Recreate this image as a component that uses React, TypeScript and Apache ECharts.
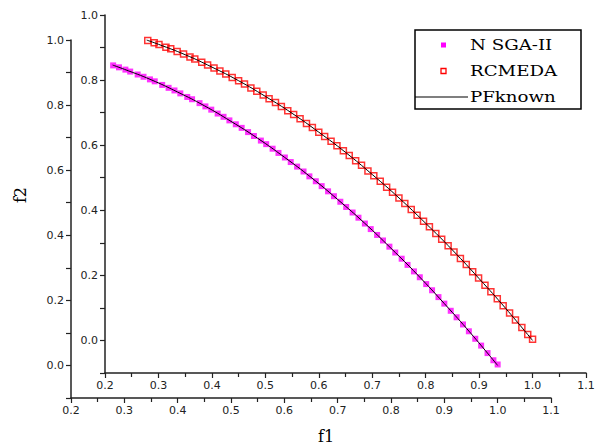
import React, { useEffect, useRef } from "react";
import * as echarts from "echarts";

const nsgaF1 = [0.279, 0.29, 0.302, 0.311, 0.325, 0.336, 0.348, 0.357, 0.371, 0.383, 0.394, 0.405, 0.418, 0.427, 0.441, 0.452, 0.463, 0.475, 0.486, 0.497, 0.509, 0.52, 0.532, 0.543, 0.556, 0.566, 0.578, 0.589, 0.601, 0.612, 0.624, 0.636, 0.647, 0.659, 0.67, 0.682, 0.693, 0.705, 0.716, 0.728, 0.739, 0.751, 0.762, 0.774, 0.785, 0.797, 0.808, 0.82, 0.831, 0.843, 0.854, 0.866, 0.877, 0.889, 0.9, 0.912, 0.923, 0.935, 0.946, 0.958, 0.969, 0.981, 0.992, 1.0];
const nsgaF2 = [0.922, 0.916, 0.909, 0.903, 0.894, 0.887, 0.879, 0.873, 0.862, 0.853, 0.845, 0.836, 0.825, 0.818, 0.806, 0.796, 0.786, 0.774, 0.764, 0.753, 0.741, 0.73, 0.717, 0.705, 0.691, 0.68, 0.666, 0.653, 0.639, 0.625, 0.611, 0.596, 0.581, 0.566, 0.551, 0.535, 0.52, 0.503, 0.487, 0.47, 0.454, 0.436, 0.419, 0.401, 0.384, 0.365, 0.347, 0.328, 0.309, 0.289, 0.271, 0.25, 0.231, 0.21, 0.19, 0.168, 0.148, 0.126, 0.105, 0.082, 0.061, 0.038, 0.016, 0.003];

const rcmedaF1 = [0.28, 0.292, 0.301, 0.314, 0.323, 0.335, 0.347, 0.359, 0.368, 0.381, 0.392, 0.404, 0.415, 0.426, 0.438, 0.45, 0.461, 0.473, 0.484, 0.496, 0.507, 0.519, 0.53, 0.542, 0.553, 0.565, 0.577, 0.588, 0.6, 0.611, 0.623, 0.634, 0.646, 0.657, 0.669, 0.68, 0.692, 0.703, 0.715, 0.727, 0.738, 0.75, 0.761, 0.773, 0.784, 0.796, 0.807, 0.819, 0.83, 0.842, 0.853, 0.865, 0.876, 0.888, 0.899, 0.911, 0.922, 0.934, 0.945, 0.957, 0.968, 0.98, 0.991, 1.0];
const rcmedaF2 = [0.922, 0.915, 0.909, 0.901, 0.896, 0.888, 0.88, 0.871, 0.865, 0.855, 0.846, 0.837, 0.828, 0.819, 0.808, 0.798, 0.788, 0.776, 0.766, 0.754, 0.743, 0.731, 0.719, 0.706, 0.694, 0.681, 0.667, 0.654, 0.64, 0.627, 0.612, 0.598, 0.583, 0.568, 0.552, 0.538, 0.521, 0.506, 0.489, 0.471, 0.455, 0.438, 0.421, 0.402, 0.385, 0.366, 0.349, 0.329, 0.311, 0.291, 0.272, 0.252, 0.233, 0.211, 0.192, 0.17, 0.15, 0.128, 0.107, 0.084, 0.063, 0.04, 0.018, 0.004];

const pfF1 = [0.278, 0.3, 0.35, 0.4, 0.45, 0.5, 0.55, 0.6, 0.65, 0.7, 0.75, 0.8, 0.85, 0.9, 0.95, 1.0];
const pfF2 = [0.923, 0.91, 0.878, 0.84, 0.798, 0.75, 0.698, 0.64, 0.578, 0.51, 0.438, 0.36, 0.278, 0.19, 0.098, 0.0];

const legendNames = ["N SGA-II", "RCMEDA", "PFknown"];
const xName = "f1";
const yName = "f2";

const zip = (a: number[], b: number[]) => a.map((v, i) => [v, b[i]]);

const labelFont = { fontFamily: "DejaVu Sans", fontSize: 11, color: "#222" };

function xAxis(gridIndex: number, margin: number) {
  return {
    type: "value",
    gridIndex,
    min: 0.2,
    max: 1.1,
    interval: 0.1,
    axisLine: { show: true, onZero: false, lineStyle: { color: "#222", width: 1.5 } },
    axisTick: { show: true, inside: false, length: 5, lineStyle: { color: "#222", width: 1.2 } },
    minorTick: { show: true, splitNumber: 2, length: 4, lineStyle: { color: "#222", width: 1.2 } },
    splitLine: { show: false },
    minorSplitLine: { show: false },
    axisLabel: {
      ...labelFont,
      margin,
      showMinLabel: true,
      showMaxLabel: true,
      formatter: (v: number) => v.toFixed(1),
    },
  };
}

function yAxis(gridIndex: number, margin: number) {
  return {
    type: "value",
    gridIndex,
    min: -0.1,
    max: 1.0,
    interval: 0.1,
    axisLine: { show: true, onZero: false, lineStyle: { color: "#222", width: 1.5 } },
    axisTick: { show: true, inside: false, length: 5, lineStyle: { color: "#222", width: 1.2 } },
    splitLine: { show: false },
    axisLabel: {
      ...labelFont,
      margin,
      showMinLabel: true,
      showMaxLabel: true,
      formatter: (v: number) => {
        const k = Math.round(v * 10);
        if (k < 0 || k % 2 !== 0) return "";
        return (k / 10).toFixed(1);
      },
    },
  };
}

export default function App() {
  const ref = useRef<HTMLDivElement>(null);
  useEffect(() => {
    if (!ref.current) return;
    const chart = echarts.init(ref.current, undefined, { renderer: "svg" });
    const legendX = 415;
    const legendY = 30;
    const rowY = [legendY + 15, legendY + 41, legendY + 67];
    chart.setOption({
      animation: false,
      backgroundColor: "#fff",
      grid: [
        { left: 105, right: 16, top: 15, bottom: 75, containLabel: false },
        { left: 71, right: 51, top: 40, bottom: 50, containLabel: false },
      ],
      xAxis: [xAxis(0, 7), xAxis(1, 7)],
      yAxis: [yAxis(0, 7), yAxis(1, 7)],
      series: [
        {
          name: legendNames[1],
          type: "scatter",
          xAxisIndex: 0,
          yAxisIndex: 0,
          symbol: "rect",
          symbolSize: 6,
          itemStyle: { color: "rgba(255,255,255,0)", borderColor: "#ff0000", borderWidth: 1.5 },
          data: zip(rcmedaF1, rcmedaF2),
          z: 2,
        },
        {
          name: legendNames[2],
          type: "line",
          xAxisIndex: 0,
          yAxisIndex: 0,
          smooth: true,
          symbol: "none",
          lineStyle: { color: "#000", width: 1 },
          data: zip(pfF1, pfF2),
          z: 3,
        },
        {
          name: legendNames[0],
          type: "scatter",
          xAxisIndex: 1,
          yAxisIndex: 1,
          symbol: "rect",
          symbolSize: 6,
          itemStyle: { color: "#ff00ff" },
          data: zip(nsgaF1, nsgaF2),
          z: 2,
        },
        {
          name: legendNames[2] + " ",
          type: "line",
          xAxisIndex: 1,
          yAxisIndex: 1,
          smooth: true,
          symbol: "none",
          lineStyle: { color: "#000", width: 1 },
          data: zip(pfF1, pfF2),
          z: 3,
        },
      ],
      graphic: [
        {
          type: "rect",
          z: 100,
          shape: { x: legendX, y: legendY, width: 166, height: 79 },
          style: { fill: "#fff", stroke: "#000", lineWidth: 1.5 },
        },
        {
          type: "rect",
          z: 101,
          shape: { x: 441, y: rowY[0] - 2.5, width: 5, height: 5 },
          style: { fill: "#ff00ff" },
        },
        {
          type: "rect",
          z: 101,
          shape: { x: 441, y: rowY[1] - 2.5, width: 5, height: 5 },
          style: { fill: "#fff", stroke: "#ff0000", lineWidth: 1.3 },
        },
        {
          type: "line",
          z: 101,
          shape: { x1: legendX, y1: rowY[2], x2: 468, y2: rowY[2] },
          style: { stroke: "#000", lineWidth: 1.2 },
        },
        ...legendNames.map((t, i) => ({
          type: "text",
          z: 101,
          x: 470,
          y: rowY[i],
          scaleX: 1.3,
          style: {
            text: t,
            font: '14px "DejaVu Serif"',
            fill: "#000",
            textVerticalAlign: "middle",
            verticalAlign: "middle",
          },
        })),
        {
          type: "text",
          z: 101,
          x: 326,
          y: 436,
          style: {
            text: xName,
            font: '16px "DejaVu Serif"',
            fill: "#000",
            align: "center",
            verticalAlign: "middle",
          },
        },
        {
          type: "text",
          z: 101,
          x: 20,
          y: 195,
          rotation: Math.PI / 2,
          style: {
            text: yName,
            font: '16px "DejaVu Serif"',
            fill: "#000",
            align: "center",
            verticalAlign: "middle",
          },
        },
      ],
    });
    return () => chart.dispose();
  }, []);
  return <div ref={ref} style={{ width: 602, height: 448, position: "absolute", left: 0, top: 0 }} />;
}
